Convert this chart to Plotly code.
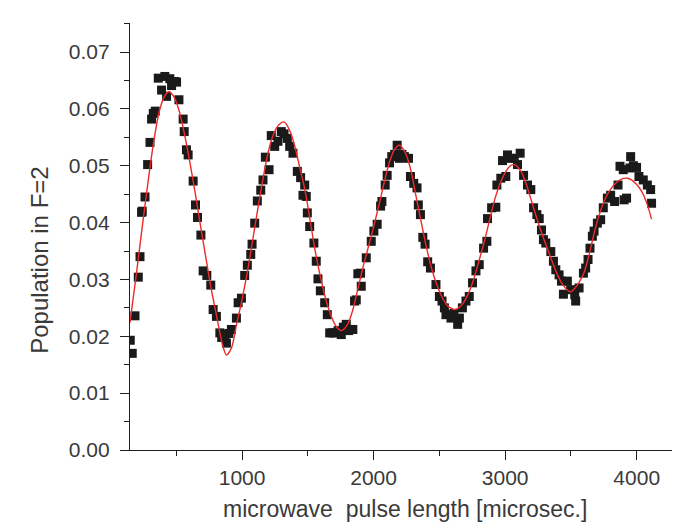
import plotly.graph_objects as go

# Measured data points (pulse length in microseconds, population in F=2)
data_x = [150, 165, 186, 211, 224, 236, 241, 262, 282, 300, 312, 325, 340, 363, 388, 413, 426, 451, 464, 490,
          502, 520, 552, 560, 577, 590, 628, 646, 661, 687, 704, 732, 762, 780, 805, 831, 845, 869, 881, 900,
          919, 957, 970, 995, 1020, 1040, 1066, 1076, 1096, 1116, 1142, 1159, 1177, 1205, 1222, 1248, 1273, 1298, 1319, 1344,
          1362, 1387, 1420, 1445, 1463, 1476, 1488, 1496, 1514, 1546, 1564, 1577, 1595, 1628, 1648, 1666, 1685, 1704, 1730, 1754,
          1770, 1792, 1810, 1830, 1842, 1855, 1868, 1880, 1901, 1906, 1944, 1982, 2002, 2027, 2053, 2063, 2088, 2103, 2121, 2138,
          2160, 2179, 2196, 2215, 2234, 2265, 2280, 2305, 2330, 2340, 2356, 2374, 2391, 2411, 2432, 2474, 2500, 2520, 2538, 2550,
          2588, 2610, 2639, 2652, 2675, 2702, 2727, 2752, 2778, 2803, 2836, 2861, 2866, 2897, 2929, 2937, 2967, 2980, 3005, 3018,
          3040, 3069, 3094, 3114, 3140, 3170, 3195, 3216, 3241, 3259, 3276, 3291, 3309, 3347, 3367, 3385, 3410, 3428, 3443, 3473,
          3498, 3529, 3536, 3562, 3595, 3612, 3630, 3645, 3663, 3676, 3701, 3726, 3746, 3777, 3802, 3832, 3858, 3873, 3898, 3904,
          3923, 3949, 3954, 3975, 3999, 4017, 4050, 4081, 4106, 4113]
data_y = [0.0193, 0.0170, 0.0236, 0.0304, 0.0340, 0.0418, 0.0420, 0.0445, 0.0502, 0.0541, 0.0582, 0.0592, 0.0596, 0.0654, 0.0633, 0.0657, 0.0622, 0.0653, 0.0641, 0.0648,
          0.0647, 0.0616, 0.0582, 0.0560, 0.0528, 0.0519, 0.0473, 0.0431, 0.0409, 0.0378, 0.0315, 0.0307, 0.0290, 0.0247, 0.0235, 0.0206, 0.0198, 0.0203, 0.0188, 0.0205,
          0.0212, 0.0232, 0.0259, 0.0267, 0.0307, 0.0325, 0.0344, 0.0362, 0.0399, 0.0438, 0.0457, 0.0475, 0.0515, 0.0493, 0.0553, 0.0534, 0.0543, 0.0560, 0.0556, 0.0548,
          0.0534, 0.0522, 0.0490, 0.0479, 0.0448, 0.0466, 0.0446, 0.0417, 0.0393, 0.0364, 0.0332, 0.0301, 0.0280, 0.0259, 0.0238, 0.0206, 0.0206, 0.0206, 0.0210, 0.0203,
          0.0216, 0.0221, 0.0210, 0.0212, 0.0212, 0.0262, 0.0264, 0.0310, 0.0311, 0.0288, 0.0338, 0.0367, 0.0385, 0.0397, 0.0429, 0.0437, 0.0466, 0.0483, 0.0505, 0.0516,
          0.0520, 0.0536, 0.0513, 0.0520, 0.0516, 0.0513, 0.0481, 0.0469, 0.0461, 0.0431, 0.0414, 0.0374, 0.0362, 0.0331, 0.0320, 0.0291, 0.0270, 0.0262, 0.0250, 0.0238,
          0.0232, 0.0240, 0.0221, 0.0232, 0.0250, 0.0262, 0.0270, 0.0294, 0.0315, 0.0326, 0.0355, 0.0367, 0.0407, 0.0426, 0.0427, 0.0466, 0.0478, 0.0509, 0.0481, 0.0519,
          0.0513, 0.0513, 0.0502, 0.0522, 0.0483, 0.0466, 0.0458, 0.0426, 0.0414, 0.0407, 0.0387, 0.0370, 0.0364, 0.0349, 0.0332, 0.0317, 0.0308, 0.0297, 0.0274, 0.0297,
          0.0282, 0.0273, 0.0262, 0.0285, 0.0311, 0.0320, 0.0335, 0.0355, 0.0376, 0.0385, 0.0399, 0.0405, 0.0426, 0.0443, 0.0448, 0.0437, 0.0466, 0.0499, 0.0493, 0.0440,
          0.0443, 0.0496, 0.0516, 0.0500, 0.0497, 0.0481, 0.0475, 0.0466, 0.0458, 0.0434]

# Fit curve
fit_x = [148, 200, 245, 290, 330, 370, 410, 444, 480, 520, 560, 600, 640, 680, 720, 760, 800, 840, 860, 881,
         920, 960, 1000, 1040, 1080, 1120, 1160, 1200, 1240, 1280, 1319, 1360, 1400, 1440, 1480, 1520, 1560, 1600, 1640, 1680,
         1720, 1754, 1800, 1840, 1880, 1920, 1960, 2000, 2040, 2080, 2120, 2160, 2196, 2240, 2280, 2320, 2360, 2400, 2440, 2480,
         2520, 2560, 2600, 2619, 2640, 2680, 2720, 2760, 2800, 2840, 2880, 2920, 2960, 3000, 3040, 3065, 3080, 3120, 3160, 3200,
         3240, 3280, 3320, 3360, 3400, 3440, 3480, 3498, 3520, 3560, 3600, 3640, 3680, 3720, 3760, 3800, 3840, 3880, 3929, 3960,
         4000, 4040, 4080, 4113]
fit_y = [0.0224, 0.0316, 0.0400, 0.0480, 0.0545, 0.0595, 0.0622, 0.0630, 0.0622, 0.0598, 0.0558, 0.0510, 0.0457, 0.0400, 0.0345, 0.0290, 0.0243, 0.0196, 0.0178, 0.0167,
         0.0180, 0.0223, 0.0265, 0.0313, 0.0368, 0.0425, 0.0478, 0.0525, 0.0556, 0.0572, 0.0577, 0.0563, 0.0535, 0.0495, 0.0455, 0.0400, 0.0345, 0.0300, 0.0262, 0.0234,
         0.0216, 0.0210, 0.0220, 0.0245, 0.0283, 0.0322, 0.0357, 0.0393, 0.0430, 0.0470, 0.0506, 0.0529, 0.0536, 0.0523, 0.0495, 0.0449, 0.0403, 0.0358, 0.0320, 0.0291,
         0.0269, 0.0254, 0.0248, 0.0247, 0.0249, 0.0258, 0.0275, 0.0300, 0.0332, 0.0365, 0.0403, 0.0440, 0.0468, 0.0488, 0.0500, 0.0502, 0.0501, 0.0490, 0.0468, 0.0438,
         0.0408, 0.0380, 0.0355, 0.0330, 0.0307, 0.0290, 0.0280, 0.0278, 0.0282, 0.0294, 0.0312, 0.0345, 0.0385, 0.0417, 0.0442, 0.0458, 0.0469, 0.0476, 0.0478, 0.0475,
         0.0467, 0.0454, 0.0432, 0.0406]

x_title = "microwave\u00a0 pulse length [microsec.]"
y_title = "Population in F=2"

FONT = "Liberation Sans, Arial, sans-serif"
TXT = "#3a3a3a"
AX = "#1e1e1e"

fig = go.Figure()
fig.add_trace(go.Scatter(x=data_x, y=data_y, mode="markers",
                         marker=dict(symbol="square", size=9, color="#1a1a1a", line=dict(width=0)),
                         showlegend=False, cliponaxis=True))
fig.add_trace(go.Scatter(x=fit_x, y=fit_y, mode="lines", line=dict(color="#ee2a2a", width=1.4, shape="spline", smoothing=0.8),
                         showlegend=False))

fig.update_layout(
    width=680, height=523,
    margin=dict(l=122, r=0, t=15, b=81),
    paper_bgcolor="white", plot_bgcolor="white",
    font=dict(family=FONT, size=21, color=TXT),
    xaxis=dict(range=[148, 4390], showgrid=False, zeroline=False, showline=True, linecolor=AX, linewidth=1.3,
               ticks="outside", ticklen=9, tickwidth=1.3, tickcolor=AX, dtick=1000, tick0=0,
               minor=dict(ticks="outside", ticklen=5, tickwidth=1.3, tickcolor=AX, dtick=500, tick0=0, showgrid=False),
               tickfont=dict(size=21, color=TXT, family=FONT)),
    yaxis=dict(range=[0, 0.0751], showgrid=False, zeroline=False, showline=True, linecolor=AX, linewidth=1.3,
               ticks="outside", ticklen=9, tickwidth=1.3, tickcolor=AX, dtick=0.01, tick0=0, tickformat=".2f",
               minor=dict(ticks="outside", ticklen=5, tickwidth=1.3, tickcolor=AX, dtick=0.005, tick0=0, showgrid=False),
               tickfont=dict(size=21, color=TXT, family=FONT), ticklabelstandoff=6),
    annotations=[
        dict(text=x_title, xref="paper", yref="paper", x=0.4928, y=-0.1730, xanchor="center", yanchor="bottom",
             showarrow=False, font=dict(size=23, color=TXT, family=FONT)),
        dict(text=y_title, xref="paper", yref="paper", x=-0.1613, y=0.4454, xanchor="center", yanchor="middle",
             textangle=-90, showarrow=False, font=dict(size=24, color=TXT, family=FONT)),
    ],
)

fig.write_html("out.html")
